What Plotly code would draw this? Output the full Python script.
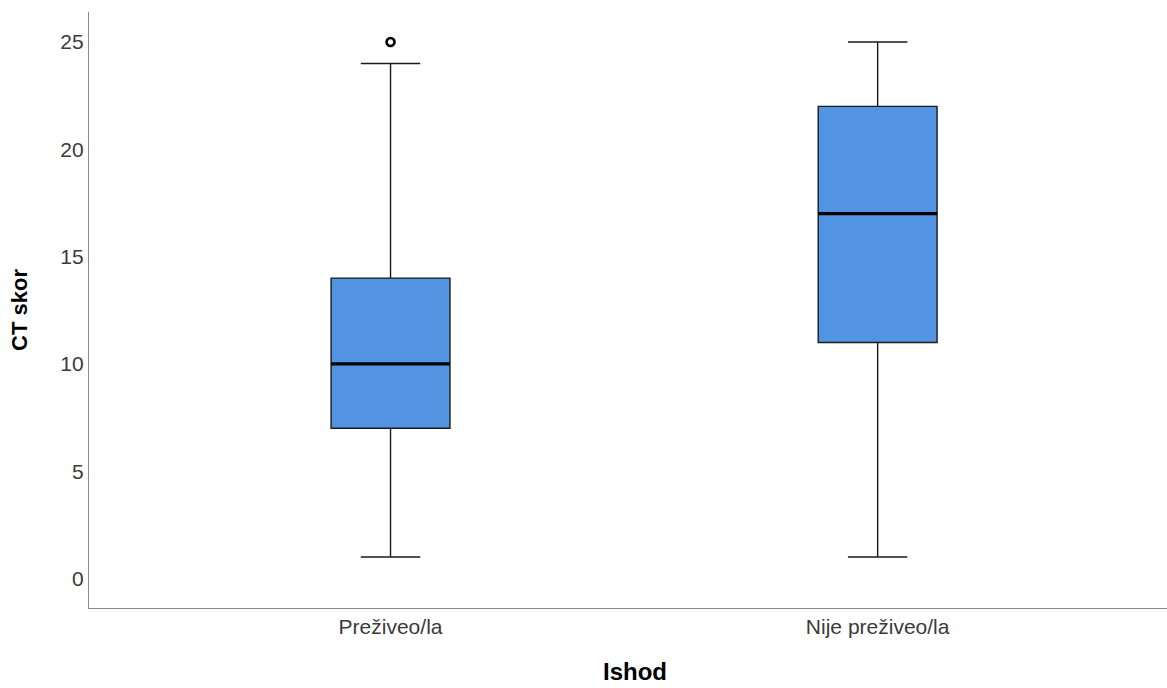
import plotly.graph_objects as go

# Summary statistics of CT score per outcome group
categories = ["Preživeo/la", "Nije preživeo/la"]
lower_whisker = [1, 1]
q1_values = [7, 11]
medians = [10, 17]
q3_values = [14, 22]
upper_whisker = [24, 25]
outlier_group = [0]
outlier_values = [25]

positions = list(range(len(categories)))
box_width = 0.244
box_fill = "#5294e2"

fig = go.Figure()

fig.add_trace(go.Box(
    x=positions,
    q1=q1_values,
    median=medians,
    q3=q3_values,
    lowerfence=lower_whisker,
    upperfence=upper_whisker,
    width=box_width,
    whiskerwidth=0.5,
    fillcolor=box_fill,
    line=dict(color="#1a1a1a", width=1.4),
    boxpoints=False,
    hoverinfo="skip",
    showlegend=False,
))

# Thicker median bars
for xp, med in zip(positions, medians):
    fig.add_trace(go.Scatter(
        x=[xp - box_width / 2, xp + box_width / 2],
        y=[med, med],
        mode="lines",
        line=dict(color="black", width=3.2),
        hoverinfo="skip",
        showlegend=False,
    ))

# Outliers
fig.add_trace(go.Scatter(
    x=outlier_group,
    y=outlier_values,
    mode="markers",
    marker=dict(symbol="circle-open", size=8, color="black", line=dict(width=2.6)),
    hoverinfo="skip",
    showlegend=False,
))

fig.update_layout(
    width=1167,
    height=688,
    margin=dict(l=89, r=0, t=12, b=80),
    paper_bgcolor="white",
    plot_bgcolor="white",
    font=dict(family="Liberation Sans, Arial, sans-serif", color="#333333"),
    xaxis=dict(
        range=[-0.619, 1.594],
        tickvals=positions,
        ticktext=categories,
        showgrid=False,
        zeroline=False,
        showline=True,
        linecolor="#888888",
        linewidth=1.2,
        ticks="",
        tickfont=dict(size=21, color="#3a3a3a"),
    ),
    yaxis=dict(
        range=[-1.375, 26.4],
        tickvals=[0, 5, 10, 15, 20, 25],
        showgrid=False,
        zeroline=False,
        showline=True,
        linecolor="#888888",
        linewidth=1.2,
        ticks="",
        tickfont=dict(size=21, color="#3a3a3a"),
        title=dict(text="<b>CT skor</b>", font=dict(size=22, color="black"), standoff=26),
    ),
    annotations=[
        dict(
            text="<b>Ishod</b>",
            xref="paper", yref="paper",
            x=0.5065, y=0,
            xanchor="center", yanchor="bottom",
            yshift=-79,
            showarrow=False,
            font=dict(size=24, color="black"),
        )
    ],
)

fig.write_html("out.html")
